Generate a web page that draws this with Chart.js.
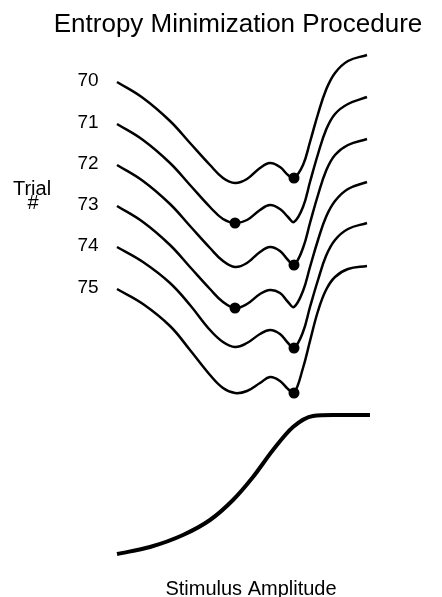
<!DOCTYPE html>
<html lang="en">
<head>
    <meta charset="UTF-8">
    <title>Entropy Minimization Procedure</title>
    <script src="https://cdn.jsdelivr.net/npm/chart.js"></script>
    <style>
        html, body { margin: 0; padding: 0; background: #fff; }
        #wrap { width: 442px; height: 597px; }
    </style>
</head>
<body>
    <div id="wrap"><canvas id="entropy-chart" width="442" height="597"></canvas></div>

    <script>
        // Stimulus amplitude sample points (shared by the trial curves)
        const stimulus = [0, 1.04, 2.12, 2.92, 3.72, 4.24, 4.72, 5.2, 5.72, 6.12, 6.52, 6.84, 7.08, 7.44, 7.72, 8.04, 8.36, 8.72, 9.24, 10];

        // Trial labels and the entropy curve drawn for each (down = lower entropy)
        const trials = ['70', '71', '72', '73', '74', '75'];
        const trial70 = [82, 98, 121, 143, 165, 178, 183, 179, 168, 163, 167, 175, 178, 165, 142, 114, 90, 73, 61, 55];
        const trial71 = [124, 140, 163, 185, 207, 219, 223, 220, 210, 205, 209, 217, 222, 207, 182, 154, 130, 114, 104, 97];
        const trial72 = [165, 181, 204, 226, 248, 261, 267, 263, 252, 247, 251, 260, 265, 248, 223, 195, 171, 155, 145, 139];
        const trial73 = [206, 222, 245, 267, 289, 302, 308, 304, 294, 290, 293, 302, 307, 291, 267, 240, 217, 201, 189, 182];
        const trial74 = [247, 262, 283, 305, 330, 342, 347, 343, 334, 330, 334, 343, 348, 332, 307, 280, 256, 240, 229, 223];
        const trial75 = [289, 304, 326, 350, 375, 388, 393, 391, 383, 377, 381, 389, 393, 368, 341, 311, 290, 277, 269, 266];

        // index of the chosen minimum on each trial (the black dot)
        const chosenIndex = [12, 6, 12, 6, 12, 12];

        // psychometric function at the bottom
        const psychX = [0, 1.32, 2.64, 3.72, 4.64, 5.44, 6.24, 7.04, 7.84, 8.64, 10.12];
        const psychY = [554, 547, 535, 520, 500, 477, 450, 427, 416, 415, 415];

        const curves = [trial70, trial71, trial72, trial73, trial74, trial75];
        const FONT = '"Liberation Sans", Arial, Helvetica, sans-serif';

        const datasets = curves.map((ys, t) => ({
            label: 'Trial ' + trials[t],
            data: ys.map((y, i) => ({ x: stimulus[i], y: y })),
            borderColor: '#000',
            backgroundColor: '#000',
            borderWidth: 2.5,
            pointRadius: ys.map((y, i) => i === chosenIndex[t] ? 5.5 : 0),
            pointBorderWidth: 0,
            tension: 0.4,
            fill: false
        }));

        datasets.push({
            label: 'Psychometric function',
            data: psychY.map((y, i) => ({ x: psychX[i], y: y })),
            borderColor: '#000',
            borderWidth: 4,
            pointRadius: 0,
            cubicInterpolationMode: 'monotone',
            fill: false
        });

        // draws the text: title, trial numbers, axis words
        const textPlugin = {
            id: 'texts',
            afterDatasetsDraw(chart) {
                const ctx = chart.ctx;
                const xs = chart.scales.x, ys = chart.scales.y;
                ctx.save();
                ctx.fillStyle = '#000';
                ctx.textAlign = 'center';
                ctx.textBaseline = 'alphabetic';

                ctx.font = '26px ' + FONT;
                ctx.fillText('Entropy Minimization Procedure', 238, 32);

                ctx.font = '20px ' + FONT;
                ctx.fillText('Trial', 32, 195);
                ctx.fillText('#', 33, 209);

                ctx.font = '20px ' + FONT;
                ctx.fillText('Stimulus Amplitude', 251, 595);

                // trial numbers next to the start of each curve
                ctx.font = '19px ' + FONT;
                ctx.textBaseline = 'middle';
                curves.forEach((c, t) => {
                    const px = xs.getPixelForValue(stimulus[0]) - 29;
                    const py = ys.getPixelForValue(c[0]) - 1;
                    ctx.fillText(trials[t], px, py);
                });
                ctx.restore();
            }
        };

        new Chart(document.getElementById('entropy-chart'), {
            type: 'line',
            data: { datasets: datasets },
            options: {
                responsive: false,
                animation: false,
                layout: { padding: 0 },
                plugins: {
                    legend: { display: false },
                    tooltip: { enabled: false },
                    title: { display: false }
                },
                scales: {
                    x: { type: 'linear', min: -4.68, max: 13.0, display: false },
                    y: { type: 'linear', min: 0, max: 597, reverse: true, display: false }
                }
            },
            plugins: [textPlugin]
        });
    </script>
</body>
</html>
